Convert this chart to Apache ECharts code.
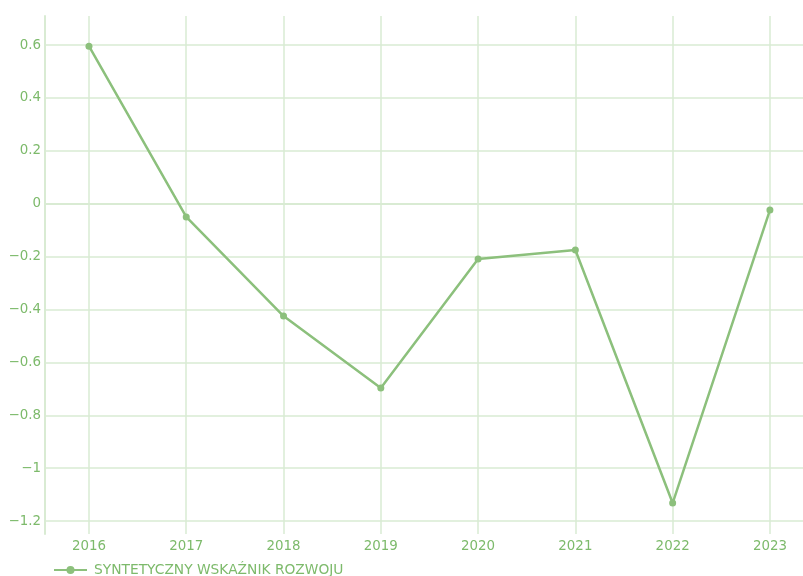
<!DOCTYPE html>
<html>
<head>
<meta charset="utf-8">
<script src="https://cdn.jsdelivr.net/npm/echarts@6/dist/echarts.min.js"></script>
<style>
  html, body { margin: 0; padding: 0; background: #ffffff; }
  #chart { width: 803px; height: 576px; }
</style>
</head>
<body>
<div id="chart"></div>
<script>
// Years and index values
const years = [2016, 2017, 2018, 2019, 2020, 2021, 2022, 2023];
const indexValues = [0.596, -0.050, -0.425, -0.697, -0.209, -0.175, -1.132, -0.024];
const yTicks = [-1.2, -1.0, -0.8, -0.6, -0.4, -0.2, 0, 0.2, 0.4, 0.6];
const seriesName = 'SYNTETYCZNY WSKAŹNIK ROZWOJU';

const green = '#8cc07c';
const labelGreen = '#7dba6b';
const gridGreen = '#d9ebd3';

function fmt(v) {
  const r = Math.round(v * 10) / 10;
  if (r === 0) return '0';
  const s = Math.abs(r).toString();
  return (r < 0 ? '\u2212' : '') + s;
}

const chart = echarts.init(document.getElementById('chart'), null, { renderer: 'canvas' });
chart.setOption({
  animation: false,
  textStyle: { fontFamily: 'DejaVu Sans' },
  grid: { left: 45, right: 0, top: 16, bottom: 42, containLabel: false },
  xAxis: {
    type: 'value',
    min: 2015.548,
    max: 2023.34,
    axisLine: { show: true, lineStyle: { color: gridGreen, width: 2 } },
    axisTick: { show: false, customValues: years },
    axisLabel: {
      customValues: years,
      color: labelGreen, fontSize: 13.4, margin: 6,
      formatter: v => String(Math.round(v))
    },
    splitLine: { show: true, lineStyle: { color: gridGreen, width: 1.5 } }
  },
  yAxis: {
    type: 'value',
    min: -1.249,
    max: 0.71,
    axisLine: { show: true, lineStyle: { color: gridGreen, width: 2 } },
    axisTick: { show: false, customValues: yTicks },
    axisLabel: {
      customValues: yTicks,
      color: labelGreen, fontSize: 13.4, margin: 4,
      formatter: fmt
    },
    splitLine: { show: true, lineStyle: { color: gridGreen, width: 1.5 } }
  },
  legend: {
    show: true,
    left: 53,
    top: 563,
    padding: 0,
    itemWidth: 33,
    itemHeight: 10,
    itemGap: 6,
    itemStyle: { borderWidth: 0 },
    textStyle: { color: labelGreen, fontSize: 13.8, fontFamily: 'DejaVu Sans', padding: [0, 0, 0, 2] },
    data: [{ name: seriesName }]
  },
  series: [{
    name: seriesName,
    type: 'line',
    data: years.map((y, i) => [y, indexValues[i]]),
    symbol: 'circle',
    symbolSize: 7,
    lineStyle: { color: green, width: 2.5 },
    itemStyle: { color: green }
  }]
});
</script>
</body>
</html>
